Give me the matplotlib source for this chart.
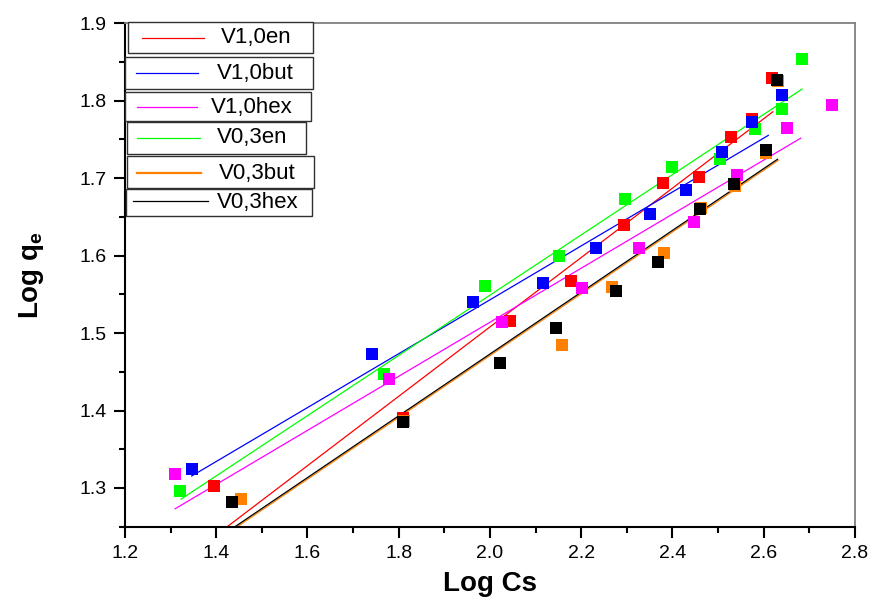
import numpy as np
import matplotlib
matplotlib.use('Agg')
import matplotlib.pyplot as plt
from matplotlib.patches import Rectangle
from matplotlib.lines import Line2D

plt.rcParams['font.family'] = ['Liberation Sans', 'DejaVu Sans']
plt.rcParams['mathtext.fontset'] = 'custom'
plt.rcParams['mathtext.rm'] = 'Liberation Sans:bold'
plt.rcParams['mathtext.bf'] = 'Liberation Sans:bold'

# Data (log Cs, log qe)
labels = ['V1,0en', 'V1,0but', 'V1,0hex', 'V0,3en', 'V0,3but', 'V0,3hex']
colors = ['#ff0000', '#0000ff', '#ff00ff', '#00ff00', '#ff8000', '#000000']

x_v10en = [1.395, 1.810, 2.044, 2.177, 2.294, 2.380, 2.459, 2.528, 2.574, 2.617]
y_v10en = [1.303, 1.390, 1.515, 1.567, 1.640, 1.694, 1.702, 1.753, 1.777, 1.830]

x_v10but = [1.346, 1.741, 1.962, 2.116, 2.232, 2.351, 2.430, 2.509, 2.575, 2.641]
y_v10but = [1.325, 1.473, 1.540, 1.565, 1.610, 1.654, 1.685, 1.734, 1.773, 1.807]

x_v10hex = [1.310, 1.779, 2.027, 2.202, 2.326, 2.447, 2.542, 2.652, 2.750]
y_v10hex = [1.318, 1.441, 1.514, 1.558, 1.610, 1.644, 1.704, 1.765, 1.794]

x_v03en = [1.321, 1.768, 1.988, 2.152, 2.296, 2.398, 2.504, 2.581, 2.639, 2.684]
y_v03en = [1.296, 1.447, 1.561, 1.599, 1.673, 1.715, 1.725, 1.763, 1.789, 1.854]

x_v03but = [1.454, 1.812, 2.157, 2.268, 2.381, 2.462, 2.537, 2.606, 2.632]
y_v03but = [1.286, 1.387, 1.485, 1.560, 1.603, 1.662, 1.690, 1.732, 1.825]

x_v03hex = [1.435, 1.810, 2.022, 2.145, 2.276, 2.368, 2.460, 2.535, 2.604, 2.630]
y_v03hex = [1.282, 1.385, 1.461, 1.506, 1.554, 1.592, 1.660, 1.692, 1.737, 1.827]

# linear fits: slope, intercept, x start, x end
fit_slope = [0.448, 0.348, 0.349, 0.389, 0.399, 0.399]
fit_icpt = [0.612, 0.847, 0.816, 0.771, 0.673, 0.675]
fit_x0 = [1.395, 1.346, 1.310, 1.323, 1.441, 1.435]
fit_x1 = [2.620, 2.610, 2.681, 2.684, 2.632, 2.630]

xs = [x_v10en, x_v10but, x_v10hex, x_v03en, x_v03but, x_v03hex]
ys = [y_v10en, y_v10but, y_v10hex, y_v03en, y_v03but, y_v03hex]

W, H = 869, 609
fig = plt.figure(figsize=(W / 100, H / 100), dpi=100)
ax = fig.add_axes([125 / W, 1 - 526.7 / H, 730 / W, 503.4 / H])

# fitted lines
for i in range(6):
    xl = np.array([fit_x0[i], fit_x1[i]])
    ax.plot(xl, fit_slope[i] * xl + fit_icpt[i], '-', color=colors[i], lw=0.9, zorder=2)

# squares, drawn in the order they overlap in the original
for i in [0, 4, 3, 1, 2, 5]:
    ax.plot(xs[i], ys[i], 's', color=colors[i], ms=8.8, mew=0, zorder=3)

ax.set_xlim(1.2, 2.8)
ax.set_ylim(1.25, 1.9)
ax.set_xticks(np.arange(1.2, 2.81, 0.2))
ax.set_xticks(np.arange(1.3, 2.8, 0.2), minor=True)
ax.set_yticks(np.arange(1.3, 1.91, 0.1))
ax.set_yticks(np.arange(1.25, 1.9, 0.1), minor=True)
ax.xaxis.set_major_formatter(plt.FormatStrFormatter('%.1f'))
ax.yaxis.set_major_formatter(plt.FormatStrFormatter('%.1f'))
ax.tick_params(which='major', direction='out', length=8, width=1.5, labelsize=14, pad=5)
ax.tick_params(which='minor', direction='out', length=4, width=1.5)
ax.tick_params(top=False, right=False)
for s in ['left', 'bottom']:
    ax.spines[s].set_linewidth(1.5)
    ax.spines[s].set_color('black')
for s in ['top', 'right']:
    ax.spines[s].set_linewidth(1.3)
    ax.spines[s].set_color('#808080')

ax.set_xlabel('Log Cs', fontsize=20, fontweight='bold', labelpad=7)
ax.set_ylabel(r'Log q$_\mathrm{e}$', fontsize=20, fontweight='bold', labelpad=24)

# Origin-style stacked legend boxes (pixel layout from the picture)
def fx(px):
    return px / W

def fy(py):
    return 1 - py / H

boxes = [(128, 22, 313, 53), (125, 57, 313, 89), (125, 92, 311, 121),
         (127, 122, 306, 154), (127, 156, 314, 188), (126, 189, 312, 216)]
handles = [(142, 204, 38), (136, 198, 73), (137, 197, 107),
           (137, 200, 138), (137, 201, 173), (133, 208, 201)]
text_pos = [(256, 38), (255, 73), (252, 107), (252, 138), (257, 173), (258, 203)]
for i in range(6):
    x0, y0, x1, y1 = boxes[i]
    fig.patches.append(Rectangle((fx(x0), fy(y1)), fx(x1) - fx(x0), fy(y0) - fy(y1),
                                 transform=fig.transFigure, facecolor='white',
                                 edgecolor='#303030', lw=1.0, zorder=5))
    hx0, hx1, hy = handles[i]
    fig.lines.append(Line2D([fx(hx0), fx(hx1)], [fy(hy), fy(hy)], transform=fig.transFigure,
                            color=colors[i], lw=1.6 if i == 4 else 0.9, zorder=6))
    tx, ty = text_pos[i]
    fig.text(fx(tx), fy(ty), labels[i], fontsize=16, ha='center', va='center', zorder=7)

plt.savefig('out.png', dpi=100)
